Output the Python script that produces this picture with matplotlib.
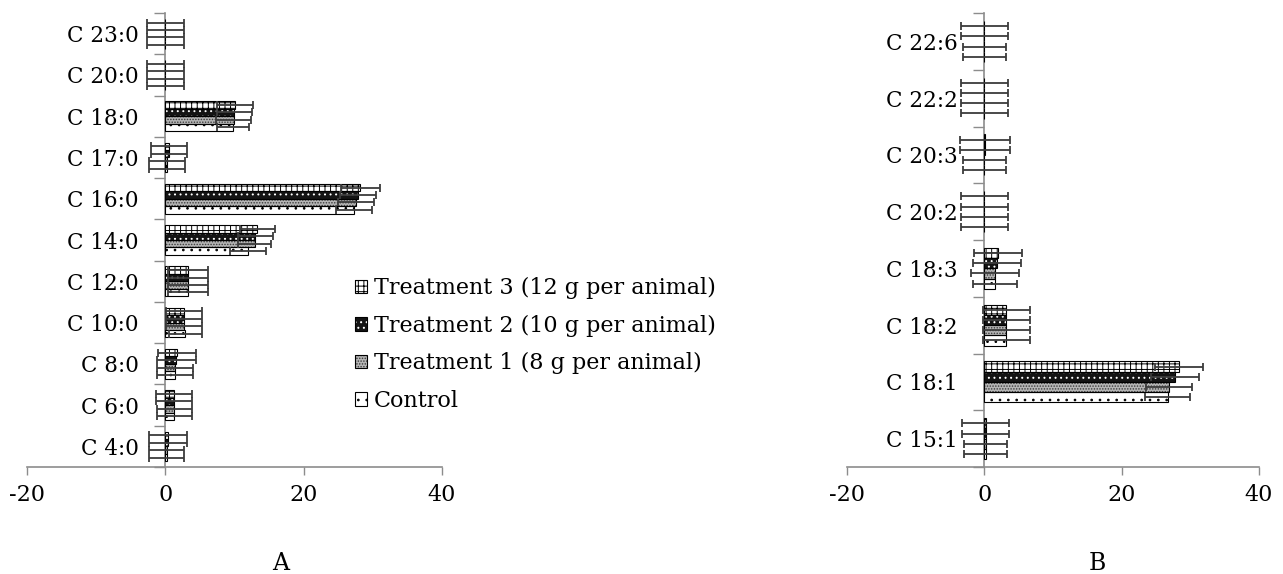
import numpy as np
import matplotlib
matplotlib.use('Agg')
import matplotlib.pyplot as plt
from matplotlib.patches import Patch

# data
series = ['Control', 'Treatment 1 (8 g per animal)', 'Treatment 2 (10 g per animal)', 'Treatment 3 (12 g per animal)']

cats_a = ['C 4:0', 'C 6:0', 'C 8:0', 'C 10:0', 'C 12:0', 'C 14:0', 'C 16:0', 'C 17:0', 'C 18:0', 'C 20:0', 'C 23:0']
ctrl_a = [0.2, 1.3, 1.4, 2.9, 3.3, 12.0, 27.3, 0.3, 9.8, 0.0, 0.0]
t1_a = [0.2, 1.3, 1.4, 2.7, 3.3, 12.9, 27.6, 0.3, 9.9, 0.0, 0.0]
t2_a = [0.4, 1.3, 1.6, 2.7, 3.3, 13.0, 27.9, 0.6, 10.0, 0.0, 0.0]
t3_a = [0.4, 1.3, 1.7, 2.7, 3.3, 13.3, 28.2, 0.6, 10.1, 0.0, 0.0]
ctrl_a_err = [2.5, 2.5, 2.6, 2.4, 2.9, 2.6, 2.6, 2.6, 2.3, 2.7, 2.7]
t1_a_err = [2.5, 2.5, 2.6, 2.6, 2.9, 2.4, 2.6, 2.6, 2.5, 2.7, 2.7]
t2_a_err = [2.8, 2.6, 2.8, 2.6, 2.9, 2.5, 2.6, 2.6, 2.5, 2.7, 2.7]
t3_a_err = [2.8, 2.6, 2.8, 2.6, 2.9, 2.5, 2.8, 2.6, 2.6, 2.7, 2.7]

cats_b = ['C 15:1', 'C 18:1', 'C 18:2', 'C 18:3', 'C 20:2', 'C 20:3', 'C 22:2', 'C 22:6']
ctrl_b = [0.2, 26.7, 3.2, 1.6, 0.0, 0.0, 0.0, 0.0]
t1_b = [0.2, 26.9, 3.2, 1.6, 0.0, 0.0, 0.0, 0.0]
t2_b = [0.2, 27.8, 3.2, 1.9, 0.0, 0.1, 0.0, 0.0]
t3_b = [0.2, 28.4, 3.2, 2.0, 0.0, 0.1, 0.0, 0.0]
ctrl_b_err = [3.1, 3.3, 3.4, 3.2, 3.4, 3.1, 3.4, 3.1]
t1_b_err = [3.1, 3.3, 3.4, 3.5, 3.4, 3.1, 3.4, 3.1]
t2_b_err = [3.4, 3.5, 3.4, 3.5, 3.4, 3.6, 3.4, 3.4]
t3_b_err = [3.4, 3.5, 3.4, 3.5, 3.4, 3.6, 3.4, 3.4]

xticks = [-20, 0, 20, 40]

# pattern per series: face colour, hatch, hatch colour
styles = [
    ('white', '..', 'black'),
    ('#b5b5b5', '......', '#3a3a3a'),
    ('#141414', '...', 'white'),
    ('white', '+++', 'black'),
]

plt.rcParams['font.family'] = 'DejaVu Serif'
plt.rcParams['hatch.linewidth'] = 0.7

axis_grey = '#8c8c8c'
bar_h = 0.18


def draw_panel(ax, cats, vals, errs):
    y = np.arange(len(cats))
    for i, (v, e) in enumerate(zip(vals, errs)):
        fc, hatch, hc = styles[i]
        pos = y + (i - 1.5) * bar_h
        ax.barh(pos, v, height=bar_h, color=fc, hatch=hatch, edgecolor=hc, linewidth=0, zorder=2)
        ax.barh(pos, v, height=bar_h, fill=False, edgecolor='black', linewidth=0.8, zorder=3)
        ax.errorbar(v, pos, xerr=e, fmt='none', ecolor='#3c3c3c', elinewidth=1.3,
                    capsize=3.2, capthick=1.3, zorder=4)

    ax.set_xlim(-20, 40)
    ax.set_ylim(-0.5, len(cats) - 0.5)
    ax.set_xticks(xticks)
    ax.set_xticklabels([str(t) for t in xticks], fontsize=16)

    # category labels sit between the boundary ticks
    ax.set_yticks(np.arange(len(cats) + 1) - 0.5)
    ax.set_yticklabels([])
    ax.set_yticks(y, minor=True)
    ax.set_yticklabels(cats, minor=True)
    ax.tick_params(axis='y', which='major', direction='out', length=8, color=axis_grey, width=1)
    ax.tick_params(axis='y', which='minor', length=0, pad=19, labelsize=15.5)
    ax.tick_params(axis='x', direction='out', length=6, color=axis_grey, width=1, pad=6)

    ax.spines['left'].set_position(('data', 0))
    for s in ['left', 'bottom']:
        ax.spines[s].set_color(axis_grey)
        ax.spines[s].set_linewidth(1.2)
    ax.spines['top'].set_visible(False)
    ax.spines['right'].set_visible(False)
    ax.set_facecolor('none')


fig = plt.figure(figsize=(12.83, 5.74), dpi=100)
ax_a = fig.add_axes([0.0210, 0.1864, 0.3235, 0.7909])
ax_b = fig.add_axes([0.6602, 0.1864, 0.3211, 0.7909])

draw_panel(ax_a, cats_a, [ctrl_a, t1_a, t2_a, t3_a], [ctrl_a_err, t1_a_err, t2_a_err, t3_a_err])
draw_panel(ax_b, cats_b, [ctrl_b, t1_b, t2_b, t3_b], [ctrl_b_err, t1_b_err, t2_b_err, t3_b_err])

# legend, top entry is Treatment 3
handles = []
for i in range(4):
    fc, hatch, hc = styles[i]
    p1 = Patch(facecolor=fc, hatch=hatch, edgecolor=hc, linewidth=0)
    p2 = Patch(fill=False, edgecolor='black', linewidth=0.8)
    handles.append((p1, p2))
fig.legend(handles[::-1], series[::-1], loc='upper left', bbox_to_anchor=(0.2767, 0.5174),
           frameon=False, fontsize=16, handlelength=0.55, handleheight=0.55,
           handletextpad=0.3, labelspacing=0.7, borderpad=0, borderaxespad=0)

fig.text(281 / 1283, 1 - 563 / 574, 'A', ha='center', va='center', fontsize=17)
fig.text(1097 / 1283, 1 - 563 / 574, 'B', ha='center', va='center', fontsize=17)

fig.savefig('out.png', dpi=100)
